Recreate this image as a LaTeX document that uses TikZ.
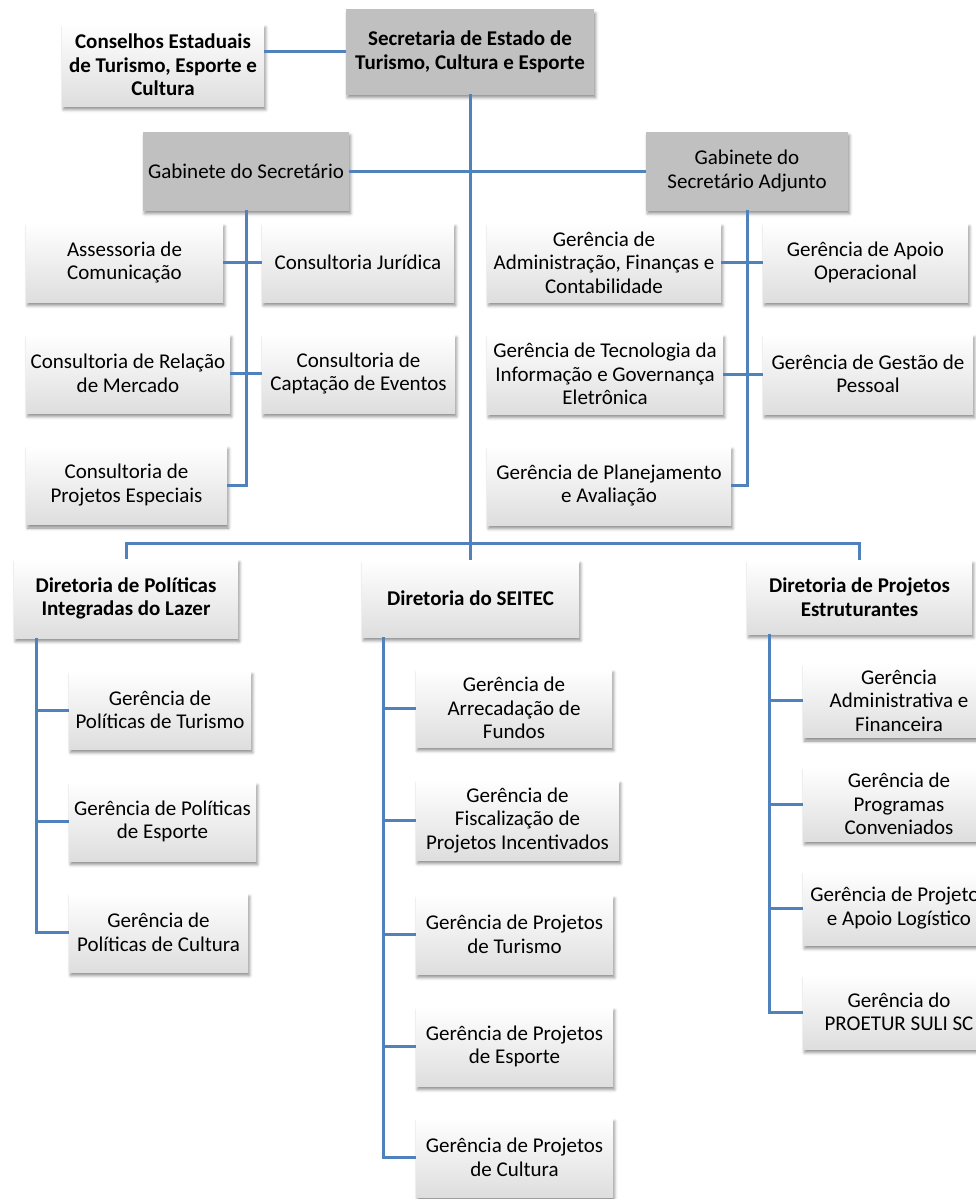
\documentclass[tikz,border=0pt]{standalone}
\usepackage{fontspec}
\setmainfont{Carlito}
\usetikzlibrary{positioning, shadows.blur}

\definecolor{azulLinha}{HTML}{4F81BD}
\definecolor{cinzaChefe}{HTML}{C0C0C0}

\begin{document}
\begin{tikzpicture}[
x=1pt, y=-1pt,
box/.style={rectangle, align=center, inner sep=1pt, minimum height=79pt,
  font=\fontsize{21}{23.5}\selectfont, top color=white, bottom color=black!13,
  blur shadow={shadow xshift=1.5pt, shadow yshift=-3.5pt, shadow blur radius=3pt, shadow opacity=45}},
chefe/.style={top color=cinzaChefe, bottom color=cinzaChefe},
titulo/.style={font=\fontsize{21}{23.5}\selectfont\bfseries},
conector/.style={draw=azulLinha, line width=3pt}
]
\useasboundingbox (0,0) rectangle (976,1199);

% Nivel 1
\node[box, chefe, titulo, minimum width=248pt, minimum height=84pt] (sec) at (470,52) {Secretaria de Estado de\\Turismo, Cultura e Esporte};
\node[box, titulo, minimum width=202pt, minimum height=82pt] (cons) at (163,65) {Conselhos Estaduais\\de Turismo, Esporte e\\Cultura};

% Nivel 2 - Gabinetes
\node[box, chefe, minimum width=206pt, minimum height=78pt] (gab) at (246,171) {Gabinete do Secretário};
\node[box, chefe, minimum width=202pt, minimum height=78pt] (adj) at (747,171) {Gabinete do\\Secretário Adjunto};

% Assessorias do gabinete
\node[box, minimum width=197pt] (asc) at (124.5,262.5) {Assessoria de\\Comunicação};
\node[box, minimum width=192pt] (jur) at (358,262.5) {Consultoria Jurídica};
\node[box, minimum width=204pt] (rel) at (128,373.5) {Consultoria de Relação\\de Mercado};
\node[box, minimum width=193pt] (cap) at (358.5,373.5) {Consultoria de\\Captação de Eventos};
\node[box, minimum width=201pt] (esp) at (126.5,485) {Consultoria de\\Projetos Especiais};

% Gerencias do adjunto
\node[box, minimum width=234pt] (adm) at (604,262.5) {Gerência de\\Administração, Finanças e\\Contabilidade};
\node[box, minimum width=205pt] (apo) at (865.5,262.5) {Gerência de Apoio\\Operacional};
\node[box, minimum width=236pt, minimum height=80pt] (tec) at (605,374) {Gerência de Tecnologia da\\Informação e Governança\\Eletrônica};
\node[box, minimum width=210pt, minimum height=80pt] (gesp) at (868,374) {Gerência de Gestão de\\Pessoal};
\node[box, minimum width=244pt] (pla) at (609,485.5) {Gerência de Planejamento\\e Avaliação};

% Nivel 3 - Diretorias
\coordinate (bus) at (470,543);
\node[box, titulo, minimum width=224pt] (dpl) at (126,598.5) {Diretoria de Políticas\\Integradas do Lazer};
\node[box, titulo, minimum width=217pt, minimum height=77pt] (dse) at (470.5,598.5) {Diretoria do SEITEC};
\node[box, titulo, minimum width=225pt, minimum height=74pt] (dpe) at (859.5,597) {Diretoria de Projetos\\Estruturantes};

% Nivel 4 - Gerencias das diretorias
\node[box, minimum width=182pt, minimum height=78pt] (gpt) at (160,710) {Gerência de\\Políticas de Turismo};
\node[box, minimum width=187pt] (gpe) at (162.5,821.5) {Gerência de Políticas\\de Esporte};
\node[box, minimum width=179pt] (gpc) at (158.5,932.5) {Gerência de\\Políticas de Cultura};

\node[box, minimum width=196pt, minimum height=78pt] (gaf) at (514,708) {Gerência de\\Arrecadação de\\Fundos};
\node[box, minimum width=203pt, minimum height=80pt] (gfi) at (517.5,820) {Gerência de\\Fiscalização de\\Projetos Incentivados};
\node[box, minimum width=197pt] (gtu) at (514.5,934.5) {Gerência de Projetos\\de Turismo};
\node[box, minimum width=197pt] (ges) at (514.5,1046.5) {Gerência de Projetos\\de Esporte};
\node[box, minimum width=197pt] (gcu) at (514.5,1157.5) {Gerência de Projetos\\de Cultura};

\node[box, minimum width=192pt, minimum height=74pt] (gad) at (899,700.5) {Gerência\\Administrativa e\\Financeira};
\node[box, minimum width=192pt, minimum height=74pt] (gcv) at (899,804) {Gerência de\\Programas\\Conveniados};
\node[box, minimum width=192pt, minimum height=74pt] (gpa) at (899,908) {Gerência de Projetos\\e Apoio Logístico};
\node[box, minimum width=192pt, minimum height=74pt] (gpr) at (899,1012) {Gerência do\\PROETUR SULI SC};

% Linhas
\draw[conector] (cons.east |- sec.west) -- (sec.west);
\draw[conector] (sec.south) -- (sec.south |- dse.north);
\draw[conector] (gab.east) -- (adj.west);

\draw[conector] (gab.south) |- (esp.east);
\draw[conector] (asc.east) -- (jur.west);
\draw[conector] (rel.east) -- (cap.west);

\draw[conector] (adj.south) |- (pla.east);
\draw[conector] (adm.east) -- (apo.west);
\draw[conector] (tec.east) -- (gesp.west);

\draw[conector] (dpl.north) |- (bus) -| (dpe.north);

\coordinate (barra1) at ([xshift=23pt]dpl.south west);
\draw[conector] (barra1) |- (gpc.west);
\draw[conector] (barra1 |- gpt.west) -- (gpt.west);
\draw[conector] (barra1 |- gpe.west) -- (gpe.west);

\coordinate (barra2) at ([xshift=22pt]dse.south west);
\draw[conector] (barra2) |- (gcu.west);
\draw[conector] (barra2 |- gaf.west) -- (gaf.west);
\draw[conector] (barra2 |- gfi.west) -- (gfi.west);
\draw[conector] (barra2 |- gtu.west) -- (gtu.west);
\draw[conector] (barra2 |- ges.west) -- (ges.west);

\coordinate (barra3) at ([xshift=23pt]dpe.south west);
\draw[conector] (barra3) |- (gpr.west);
\draw[conector] (barra3 |- gad.west) -- (gad.west);
\draw[conector] (barra3 |- gcv.west) -- (gcv.west);
\draw[conector] (barra3 |- gpa.west) -- (gpa.west);

\end{tikzpicture}
\end{document}
